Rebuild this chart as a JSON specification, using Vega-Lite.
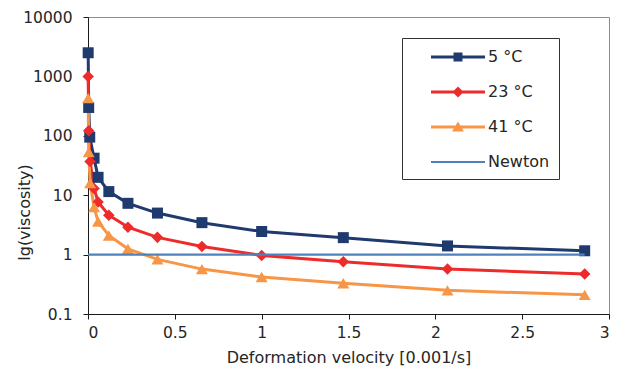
{
  "$schema": "https://vega.github.io/schema/vega-lite/v6.json",
  "width": 521,
  "height": 297,
  "autosize": "none",
  "padding": {"left": 88, "top": 17, "right": 15, "bottom": 67},
  "background": "white",
  "config": {
    "view": {"stroke": "#8c8c8c", "strokeWidth": 1},
    "font": "DejaVu Sans",
    "axis": {
      "grid": false,
      "domainColor": "#1a1a1a",
      "tickColor": "#1a1a1a",
      "tickSize": 5,
      "labelFont": "DejaVu Sans",
      "labelFontSize": 15.5,
      "labelColor": "#262626",
      "titleFont": "DejaVu Sans",
      "titleFontSize": 16,
      "titleFontWeight": "normal",
      "titleColor": "#262626"
    },
    "legend": {
      "orient": "none",
      "legendX": 314,
      "legendY": 21,
      "strokeColor": "#333333",
      "fillColor": "white",
      "padding": 9,
      "symbolSize": 400,
      "symbolStrokeWidth": 0,
      "symbolOpacity": 1,
      "labelOffset": 57,
      "rowPadding": 17,
      "labelFont": "DejaVu Sans",
      "labelFontSize": 16,
      "labelColor": "#262626"
    }
  },
  "data": {
    "values": [
      {"series": "5 °C", "rate": 0.001, "viscosity": 2500},
      {"series": "5 °C", "rate": 0.004, "viscosity": 300},
      {"series": "5 °C", "rate": 0.010, "viscosity": 95},
      {"series": "5 °C", "rate": 0.035, "viscosity": 42},
      {"series": "5 °C", "rate": 0.058, "viscosity": 20},
      {"series": "5 °C", "rate": 0.12, "viscosity": 11.5},
      {"series": "5 °C", "rate": 0.23, "viscosity": 7.3},
      {"series": "5 °C", "rate": 0.40, "viscosity": 5.0},
      {"series": "5 °C", "rate": 0.656, "viscosity": 3.45},
      {"series": "5 °C", "rate": 1.0, "viscosity": 2.45},
      {"series": "5 °C", "rate": 1.47, "viscosity": 1.93},
      {"series": "5 °C", "rate": 2.07, "viscosity": 1.40},
      {"series": "5 °C", "rate": 2.86, "viscosity": 1.16},
      {"series": "23 °C", "rate": 0.001, "viscosity": 1000},
      {"series": "23 °C", "rate": 0.004, "viscosity": 122},
      {"series": "23 °C", "rate": 0.012, "viscosity": 37},
      {"series": "23 °C", "rate": 0.035, "viscosity": 13},
      {"series": "23 °C", "rate": 0.058, "viscosity": 7.7},
      {"series": "23 °C", "rate": 0.12, "viscosity": 4.6},
      {"series": "23 °C", "rate": 0.23, "viscosity": 2.9},
      {"series": "23 °C", "rate": 0.40, "viscosity": 1.95},
      {"series": "23 °C", "rate": 0.656, "viscosity": 1.37},
      {"series": "23 °C", "rate": 1.0, "viscosity": 0.97},
      {"series": "23 °C", "rate": 1.47, "viscosity": 0.76},
      {"series": "23 °C", "rate": 2.07, "viscosity": 0.57},
      {"series": "23 °C", "rate": 2.86, "viscosity": 0.47},
      {"series": "41 °C", "rate": 0.001, "viscosity": 430},
      {"series": "41 °C", "rate": 0.004, "viscosity": 53},
      {"series": "41 °C", "rate": 0.012, "viscosity": 16},
      {"series": "41 °C", "rate": 0.035, "viscosity": 6.3},
      {"series": "41 °C", "rate": 0.058, "viscosity": 3.6},
      {"series": "41 °C", "rate": 0.12, "viscosity": 2.1},
      {"series": "41 °C", "rate": 0.23, "viscosity": 1.25},
      {"series": "41 °C", "rate": 0.40, "viscosity": 0.83},
      {"series": "41 °C", "rate": 0.656, "viscosity": 0.57},
      {"series": "41 °C", "rate": 1.0, "viscosity": 0.42},
      {"series": "41 °C", "rate": 1.47, "viscosity": 0.33},
      {"series": "41 °C", "rate": 2.07, "viscosity": 0.25},
      {"series": "41 °C", "rate": 2.86, "viscosity": 0.21},
      {"series": "Newton", "rate": 0, "viscosity": 1},
      {"series": "Newton", "rate": 2.86, "viscosity": 1}
    ]
  },
  "encoding": {
    "x": {
      "field": "rate",
      "type": "quantitative",
      "scale": {"domain": [0, 3], "nice": false, "zero": false},
      "axis": {
        "values": [0, 0.5, 1, 1.5, 2, 2.5, 3],
        "format": "~g",
        "labelPadding": 6,
        "title": "Deformation velocity [0.001/s]",
        "titleBaseline": "middle",
        "titleY": 43
      }
    },
    "y": {
      "field": "viscosity",
      "type": "quantitative",
      "scale": {"type": "log", "domain": [0.1, 10000], "nice": false},
      "axis": {
        "values": [0.1, 1, 10, 100, 1000, 10000],
        "format": "~g",
        "labelPadding": 11,
        "title": "lg(viscosity)",
        "titleBaseline": "middle",
        "titleX": -64,
        "titleY": 195
      }
    }
  },
  "layer": [
    {
      "transform": [{"filter": "datum.series !== 'Newton'"}],
      "mark": {"type": "line", "strokeWidth": 3},
      "encoding": {
        "color": {
          "field": "series",
          "type": "nominal",
          "scale": {"domain": ["5 °C", "23 °C", "41 °C", "Newton"], "range": ["#1f3a6e", "#ee2b2b", "#f79646", "#4f81bd"]},
          "legend": null
        }
      }
    },
    {
      "transform": [{"filter": "datum.series !== 'Newton'"}],
      "mark": {"type": "point", "filled": true, "opacity": 1},
      "encoding": {
        "color": {
          "field": "series",
          "type": "nominal",
          "scale": {"domain": ["5 °C", "23 °C", "41 °C", "Newton"], "range": ["#1f3a6e", "#ee2b2b", "#f79646", "#4f81bd"]},
          "legend": null
        },
        "shape": {
          "field": "series",
          "type": "nominal",
          "scale": {"domain": ["5 °C", "23 °C", "41 °C"], "range": ["square", "diamond", "triangle-up"]},
          "legend": null
        },
        "size": {
          "field": "series",
          "type": "nominal",
          "scale": {"domain": ["5 °C", "23 °C", "41 °C"], "range": [121, 144, 156]},
          "legend": null
        }
      }
    },
    {
      "transform": [{"filter": "datum.series === 'Newton'"}],
      "mark": {"type": "line", "strokeWidth": 2.2, "color": "#4f81bd"},
      "encoding": {}
    },
    {
      "mark": {"type": "point", "filled": true, "opacity": 0},
      "encoding": {
        "fill": {
          "field": "series",
          "type": "nominal",
          "scale": {"domain": ["5 °C", "23 °C", "41 °C", "Newton"], "range": ["#1f3a6e", "#ee2b2b", "#f79646", "#4f81bd"]},
          "legend": {"title": null}
        },
        "shape": {
          "field": "series",
          "type": "nominal",
          "scale": {
            "domain": ["5 °C", "23 °C", "41 °C", "Newton"],
            "range": [
              "M1,-0.16H6.4V0.16H1Z M3.25,-0.45H4.15V0.45H3.25Z",
              "M1,-0.16H6.4V0.16H1Z M3.7,-0.55L4.25,0L3.7,0.55L3.15,0Z",
              "M1,-0.16H6.4V0.16H1Z M3.7,-0.55L4.3,0.45L3.1,0.45Z",
              "M1,-0.11H6.4V0.11H1Z"
            ]
          },
          "legend": {"title": null}
        }
      }
    }
  ],
  "resolve": {"scale": {"shape": "independent", "fill": "independent", "size": "independent"}}
}
